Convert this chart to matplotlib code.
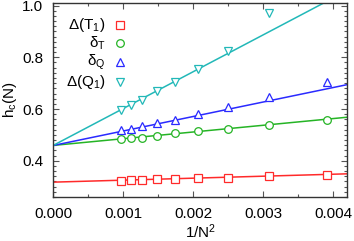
import matplotlib
matplotlib.use("Agg")
import matplotlib.pyplot as plt
import numpy as np
from matplotlib.ticker import MultipleLocator, FormatStrFormatter

plt.rcParams['font.family'] = ['Liberation Sans', 'DejaVu Sans']
plt.rcParams['mathtext.fontset'] = 'custom'
plt.rcParams['mathtext.rm'] = 'Liberation Sans'
plt.rcParams['mathtext.it'] = 'Liberation Sans'

# system sizes N -> x = 1/N^2
N = np.array([32, 30, 28, 26, 24, 22, 20, 18, 16])
x = 1.0 / N**2

labels = [r'$\Delta$(T$_1$)', r'$\delta_T$', r'$\delta_Q$', r'$\Delta$(Q$_1$)']
colors = ['#ff2a2a', '#25b425', '#2a2aff', '#22b8b8']
markers = ['s', 'o', '^', 'v']

delta_T1 = [0.3236, 0.3264, 0.3264, 0.3290, 0.3314, 0.3330, 0.3353, 0.3407, 0.3469]
delta_T = [0.4853, 0.4864, 0.4891, 0.4942, 0.5058, 0.5136, 0.5229, 0.5384, 0.5589]
delta_Q = [0.5174, 0.5229, 0.5329, 0.5461, 0.5589, 0.5822, 0.6066, 0.6453, 0.7035]
delta_Q1 = [0.5977, 0.6170, 0.6364, 0.6686, 0.7035, 0.7566, 0.8236, 0.9725]
series = [delta_T1, delta_T, delta_Q, delta_Q1]

# linear fits h_c(0) + b * x
fit_intercepts = [0.3174, 0.4593, 0.4590, 0.4590]
fit_slopes = [7.67, 26.0, 56.1, 142.7]

fig = plt.figure(figsize=(3.54, 2.41), dpi=100)
ax = fig.add_axes([0.1497, 0.1826, 0.8319, 0.805])

mk = dict(linestyle='none', markersize=5.5, markerfacecolor='white',
          markeredgewidth=0.9)

xl = np.array([0.0, 0.0042])
for y, c, m, a, b in zip(series, colors, markers, fit_intercepts, fit_slopes):
    ax.plot(xl, a + b * xl, color=c, lw=1.1, zorder=2)
    ax.plot(x[:len(y)], y, marker=m, markeredgecolor=c, zorder=3, **mk)

# legend: labels right-aligned, symbol to the right
leg_rows = [0.885, 0.792, 0.695, 0.592]
for ly, c, m, lab in zip(leg_rows, colors, markers, labels):
    ax.plot([0.2275], [ly], marker=m, markeredgecolor=c,
            transform=ax.transAxes, clip_on=False, zorder=4, **mk)
    ax.text(0.178, ly, lab, transform=ax.transAxes, ha='right',
            va='center', fontsize=11)

ax.set_xlim(0, 0.0042)
ax.set_ylim(0.26, 1.01)
ax.xaxis.set_major_locator(MultipleLocator(0.001))
ax.xaxis.set_minor_locator(MultipleLocator(0.0005))
ax.yaxis.set_major_locator(MultipleLocator(0.2))
ax.yaxis.set_minor_locator(MultipleLocator(0.02))
ax.xaxis.set_major_formatter(FormatStrFormatter('%.3f'))
ax.yaxis.set_major_formatter(FormatStrFormatter('%.1f'))
ax.tick_params(which='both', direction='in', top=True, right=True,
               labelsize=11, color='#555555', width=0.8)
ax.tick_params(which='major', length=4.5, pad=7)
ax.tick_params(which='minor', length=2.2)
for s in ax.spines.values():
    s.set_linewidth(1.0)
    s.set_color('#333333')

ax.set_xlabel(r'1/N$^2$', fontsize=11, labelpad=1)
ax.set_ylabel(r'h$_c$(N)', fontsize=11, labelpad=2)

fig.savefig('out.png', dpi=100)
